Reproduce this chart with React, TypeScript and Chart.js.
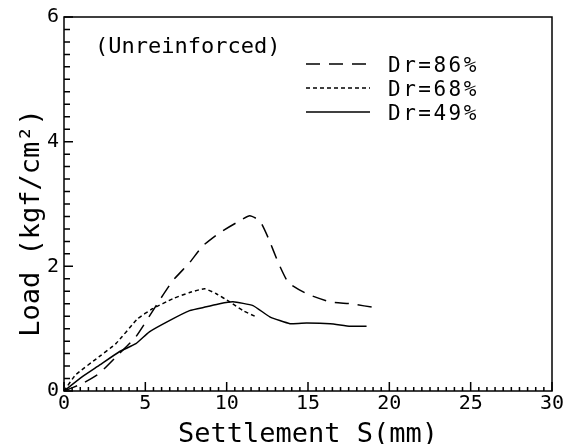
import React, { useEffect, useRef } from "react";
import { Chart, registerables } from "chart.js";

Chart.register(...registerables);

const MONO = "'DejaVu Sans Mono', 'Liberation Mono', monospace";

// Series data
const dr86X = [0, 1.13, 2.16, 3.4, 4.42, 5.86, 6.69, 7.72, 8.54, 9.57, 10.6, 11.42, 12.04, 12.55, 13.17, 13.79, 14.92, 16.36, 17.6, 19.3];
const dr86Y = [0, 0.12, 0.28, 0.6, 0.87, 1.45, 1.77, 2.06, 2.33, 2.54, 2.7, 2.81, 2.73, 2.46, 2.06, 1.74, 1.56, 1.43, 1.4, 1.33];

const dr68X = [0, 0.72, 2.16, 3.19, 4.53, 5.45, 6.69, 7.72, 8.64, 9.36, 10.19, 11.0, 11.73];
const dr68Y = [0, 0.26, 0.55, 0.76, 1.16, 1.32, 1.48, 1.58, 1.64, 1.56, 1.43, 1.29, 1.2];

const dr49X = [0, 1.13, 2.16, 3.4, 4.42, 5.25, 6.48, 7.72, 8.75, 9.57, 10.39, 11.62, 12.65, 13.89, 14.92, 16.36, 17.6, 18.6];
const dr49Y = [0, 0.23, 0.41, 0.63, 0.76, 0.95, 1.13, 1.29, 1.35, 1.4, 1.43, 1.37, 1.19, 1.08, 1.09, 1.08, 1.04, 1.04];

const seriesLabels = ["Dr=86%", "Dr=68%", "Dr=49%"];
const seriesDashes = [[14, 9], [4, 3], []];

const xTitle = "Settlement S(mm)";
const yTitle = "Load (kgf/cm²)";
const annotation = "(Unreinforced)";

const toPoints = (xs: number[], ys: number[]) => xs.map((x, i) => ({ x, y: ys[i] }));

const decorPlugin = {
  id: "decor",
  afterDraw(chart: any) {
    const { ctx, chartArea } = chart;
    const { left, right, top, bottom } = chartArea;
    const xs = chart.scales.x;
    const ys = chart.scales.y;
    ctx.save();
    ctx.strokeStyle = "#000";
    ctx.fillStyle = "#000";
    ctx.lineWidth = 1.5;
    ctx.setLineDash([]);
    ctx.strokeRect(left, top, right - left, bottom - top);
    // inward ticks
    ctx.beginPath();
    for (let i = 0; i <= 60; i++) {
      const px = xs.getPixelForValue(i * 0.5);
      const len = i % 10 === 0 ? 9 : 4;
      ctx.moveTo(px, bottom);
      ctx.lineTo(px, bottom - len);
    }
    for (let i = 0; i <= 30; i++) {
      const py = ys.getPixelForValue(i * 0.2);
      const len = i % 10 === 0 ? 9 : 6;
      ctx.moveTo(left, py);
      ctx.lineTo(left + len, py);
    }
    ctx.stroke();

    // axis titles
    ctx.font = `27px ${MONO}`;
    ctx.textAlign = "center";
    ctx.textBaseline = "alphabetic";
    ctx.fillText(xTitle, (left + right) / 2, 442);
    ctx.save();
    ctx.translate(39, 223);
    ctx.rotate(-Math.PI / 2);
    ctx.fillText(yTitle, 0, 0);
    ctx.restore();

    // annotation
    ctx.font = `22px ${MONO}`;
    ctx.textAlign = "left";
    ctx.fillText(annotation, 95, 53);

    // legend
    const baselines = [72, 96, 120];
    chart.data.datasets.forEach((ds: any, i: number) => {
      const yb = baselines[i];
      ctx.save();
      ctx.lineWidth = 1.5;
      ctx.setLineDash(ds.borderDash || []);
      ctx.beginPath();
      ctx.moveTo(306, yb - 8);
      ctx.lineTo(370, yb - 8);
      ctx.stroke();
      ctx.restore();
      ctx.save();
      ctx.font = `21px ${MONO}`;
      (ctx as any).letterSpacing = "2.5px";
      ctx.textAlign = "left";
      ctx.fillText(ds.label, 388, yb);
      ctx.restore();
    });
    ctx.restore();
  },
};

export default function App() {
  const ref = useRef<HTMLCanvasElement>(null);
  useEffect(() => {
    document.body.style.margin = "0";
    const canvas = ref.current!;
    const chart = new Chart(canvas, {
      type: "line",
      data: {
        datasets: [
          { label: seriesLabels[0], data: toPoints(dr86X, dr86Y), borderDash: seriesDashes[0] },
          { label: seriesLabels[1], data: toPoints(dr68X, dr68Y), borderDash: seriesDashes[1] },
          { label: seriesLabels[2], data: toPoints(dr49X, dr49Y), borderDash: seriesDashes[2] },
        ].map((d) => ({
          ...d,
          borderColor: "#000",
          borderWidth: 1.5,
          pointRadius: 0,
          fill: false,
          tension: 0.15,
        })),
      },
      options: {
        animation: false,
        responsive: false,
        maintainAspectRatio: false,
        layout: { padding: { top: 15, right: 24, left: 0, bottom: 0 } },
        plugins: { legend: { display: false }, tooltip: { enabled: false } },
        scales: {
          x: {
            type: "linear",
            min: 0,
            max: 30,
            grid: { display: false, drawTicks: false },
            border: { display: false },
            ticks: {
              stepSize: 5,
              color: "#000",
              padding: 1,
              maxRotation: 0,
              font: { family: MONO, size: 20 },
            },
            afterFit: (s: any) => {
              s.height = 53;
            },
          },
          y: {
            type: "linear",
            min: 0,
            max: 6,
            grid: { display: false, drawTicks: false },
            border: { display: false },
            ticks: {
              stepSize: 2,
              color: "#000",
              padding: 5,
              font: { family: MONO, size: 20 },
            },
            afterFit: (s: any) => {
              s.width = 64;
            },
          },
        },
      },
      plugins: [decorPlugin],
    });
    return () => chart.destroy();
  }, []);
  return <canvas ref={ref} width={576} height={444} style={{ display: "block" }} />;
}
